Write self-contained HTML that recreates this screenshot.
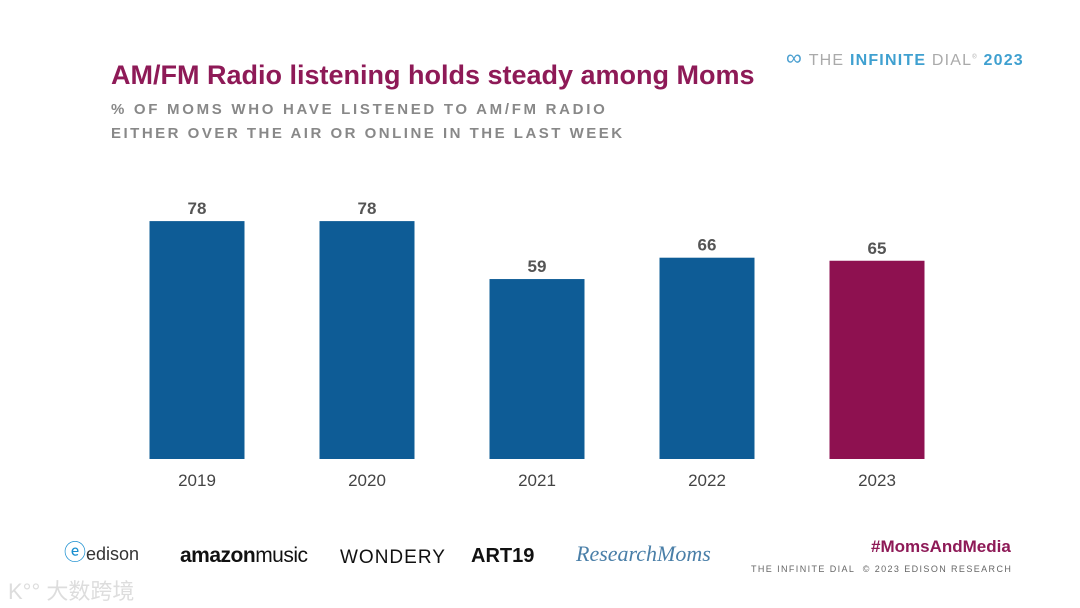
<!DOCTYPE html>
<html><head><meta charset="utf-8"><style>
body{margin:0;width:1080px;height:608px;background:#fff;font-family:"Liberation Sans",sans-serif;position:relative;overflow:hidden}
.a{position:absolute;white-space:nowrap}
</style></head><body>
<div class="a" style="left:786px;top:45px;font-size:16px;color:#aaa;letter-spacing:1.2px">
<span style="color:#4a9fd0;font-size:22px;letter-spacing:-4px">∞</span>&nbsp; THE <b style="color:#3fa0d0">INFINITE</b> DIAL<sup style="font-size:6px">®</sup> <b style="color:#3fa0d0">2023</b></div>
<div class="a" style="left:111px;top:60px;font-size:27px;font-weight:bold;color:#8e1a57">AM/FM Radio listening holds steady among Moms</div>
<div class="a" style="left:111px;top:98px;font-size:15px;font-weight:bold;color:#888;letter-spacing:2.5px;line-height:24px"><span style="letter-spacing:2.7px">% OF MOMS WHO HAVE LISTENED TO AM/FM RADIO</span><br>EITHER OVER THE AIR OR ONLINE IN THE LAST WEEK</div>
<svg class="a" style="left:0;top:0" width="1080" height="608" id="chart"></svg>
<div class="a" style="left:64px;top:535px;font-size:22px;color:#1a8fd0">ⓔ<span style="color:#333;font-size:18px">edison</span></div>
<div class="a" style="left:180px;top:544px;font-size:21px;color:#111;letter-spacing:-0.5px"><b>amazon</b>music</div>
<div class="a" style="left:340px;top:547px;font-size:19px;color:#111;letter-spacing:1px">WONDERY</div>
<div class="a" style="left:471px;top:545px;font-size:20px;font-weight:bold;color:#111">ART19</div>
<div class="a" style="left:576px;top:541px;font-size:22px;font-style:italic;font-family:'Liberation Serif',serif;color:#4a7fa8">ResearchMoms</div>
<div class="a" style="left:871px;top:537px;font-size:17px;font-weight:bold;color:#8e1a57">#MomsAndMedia</div>
<div class="a" style="left:751px;top:564px;font-size:9px;color:#666;letter-spacing:1.4px">THE INFINITE DIAL &nbsp;© 2023 EDISON RESEARCH</div>
<div class="a" style="left:8px;top:574px;font-size:22px;color:#ddd;font-family:'Liberation Sans','Noto Sans CJK SC',sans-serif">K°° 大数跨境</div>
<script>
const categories=["2019","2020","2021","2022","2023"];
const values=[78,78,59,66,65];
const colors=["#0e5c96","#0e5c96","#0e5c96","#0e5c96","#8e1150"];
const svg=document.getElementById('chart');
const NS="http://www.w3.org/2000/svg";
const y0=459,k=3.05,x0=197,step=170,bw=95;
const yS=v=>y0-v*k, xS=i=>x0+i*step;
categories.forEach((c,i)=>{
 const r=document.createElementNS(NS,'rect');
 r.setAttribute('x',xS(i)-bw/2);r.setAttribute('y',yS(values[i]));
 r.setAttribute('width',bw);r.setAttribute('height',values[i]*k);r.setAttribute('fill',colors[i]);
 
 
 svg.appendChild(r);
 const t=document.createElementNS(NS,'text');
 t.setAttribute('x',xS(i));t.setAttribute('y',yS(values[i])-7);t.setAttribute('text-anchor','middle');
 t.setAttribute('font-size','17');t.setAttribute('font-weight','bold');t.setAttribute('fill','#555');
 t.textContent=values[i];
 
 
 svg.appendChild(t);
 const l=document.createElementNS(NS,'text');
 l.setAttribute('x',xS(i));l.setAttribute('y',486);l.setAttribute('text-anchor','middle');
 l.setAttribute('font-size','17');l.setAttribute('fill','#444');
 l.textContent=c;
 
 
 svg.appendChild(l);
});
</script>
</body></html>
